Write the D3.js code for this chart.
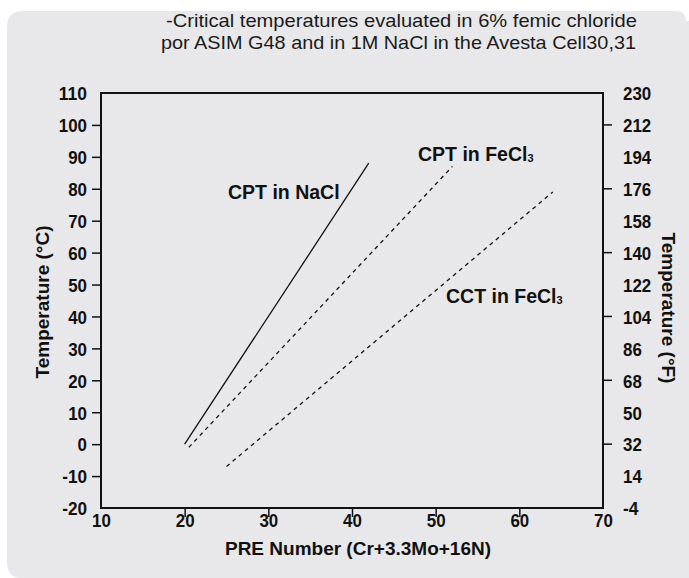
<!DOCTYPE html>
<html>
<head>
<meta charset="utf-8">
<script src="https://cdn.jsdelivr.net/npm/d3@7/dist/d3.min.js"></script>
<style>
  html, body { margin: 0; padding: 0; background: #ffffff; }
  svg { display: block; }
  .tick-label { font-family: "Liberation Sans", Arial, sans-serif; font-weight: bold; font-size: 19px; fill: #111; }
  .axis-title { font-family: "Liberation Sans", Arial, sans-serif; font-weight: bold; font-size: 19px; fill: #111; }
  .series-label { font-family: "Liberation Sans", Arial, sans-serif; font-weight: bold; font-size: 19.5px; fill: #111; }
  .title { font-family: "Liberation Sans", Arial, sans-serif; font-size: 19px; fill: #1a1a1a; }
</style>
</head>
<body>
<svg id="chart" width="689" height="578"></svg>
<script>
// Caption lines
const titleLines = [
  "-Critical temperatures evaluated in 6% femic chloride",
  "por ASIM G48 and in 1M NaCl in the Avesta Cell30,31"
];

// Axis ticks
const xTicks = [10, 20, 30, 40, 50, 60, 70];
const cTicks = [-20, -10, 0, 10, 20, 30, 40, 50, 60, 70, 80, 90, 100, 110];
const fTicks = [-4, 14, 32, 50, 68, 86, 104, 122, 140, 158, 176, 194, 212, 230];
const fMarked = [32, 68, 104, 140, 176, 212];

// Series: PRE number vs critical temperature (°C)
const cptNaCl = [[20, 0], [42, 88]];
const cptFeCl3 = [[20.5, -1], [52, 87]];
const cctFeCl3 = [[25, -7], [64, 79]];

const svg = d3.select("#chart");
const fmt = d => String(d);   // plain hyphen for negatives
// narrow, condensed look for the bold numerals
const numWidth = s => s.replace(/-/g, "").length * 9.4 + (s.match(/-/g) || []).length * 6;
function condense(sel) {
  sel.attr("textLength", function () { return numWidth(this.textContent); })
     .attr("lengthAdjust", "spacingAndGlyphs");
}

// rounded panel background
const panel = d3.path();
panel.moveTo(7, 27);
panel.quadraticCurveTo(7, 11, 23, 11);
panel.lineTo(676, 11);
panel.quadraticCurveTo(686, 11, 686, 21);
panel.lineTo(689, 21);
panel.lineTo(689, 578);
panel.lineTo(22, 578);
panel.quadraticCurveTo(7, 578, 7, 562);
panel.closePath();
svg.append("path").attr("d", panel.toString()).attr("fill", "#e8e8ea");

const x = d3.scaleLinear().domain([10, 70]).range([101, 603]);
const y = d3.scaleLinear().domain([-20, 110]).range([508, 93]);
const yF = d3.scaleLinear().domain([-4, 230]).range([508, 93]);

// caption
const titleWidths = [471, 475];
const titleX = [166, 161];
svg.append("g").selectAll("text").data(titleLines).join("text")
  .attr("class", "title")
  .attr("x", (d, i) => titleX[i])
  .attr("y", (d, i) => 27 + i * 22)
  .attr("textLength", (d, i) => titleWidths[i])
  .attr("lengthAdjust", "spacingAndGlyphs")
  .text(d => d);

// left axis
const leftAxis = d3.axisLeft(y).tickValues(cTicks).tickSize(9).tickPadding(5).tickFormat(fmt);
const gl = svg.append("g").attr("transform", `translate(${x(10)},0)`).call(leftAxis);
gl.select(".domain").remove();
gl.selectAll("line").attr("stroke", "#111").attr("stroke-width", 1.5)
  .attr("display", d => (d === 110 || d === -20) ? "none" : null);
gl.selectAll("text").attr("class", "tick-label").attr("dy", "0.36em").call(condense);

// right axis (°F)
const rightAxis = d3.axisRight(yF).tickValues(fTicks).tickSize(0).tickPadding(20).tickFormat(fmt);
const gr = svg.append("g").attr("transform", `translate(${x(70)},0)`).call(rightAxis);
gr.select(".domain").remove();
gr.selectAll("line").remove();
gr.selectAll("text").attr("class", "tick-label").attr("dy", "0.36em").call(condense);
svg.append("g").selectAll("line").data(fMarked).join("line")
  .attr("x1", x(70)).attr("x2", x(70) + 9)
  .attr("y1", d => yF(d)).attr("y2", d => yF(d))
  .attr("stroke", "#111").attr("stroke-width", 1.5);

// bottom axis
const bottomAxis = d3.axisBottom(x).tickValues(xTicks).tickSize(9).tickFormat(fmt);
const gb = svg.append("g").attr("transform", `translate(0,${y(-20)})`).call(bottomAxis);
gb.select(".domain").remove();
gb.selectAll("line").attr("stroke", "#111").attr("stroke-width", 1.5)
  .attr("display", d => (d === 10 || d === 70) ? "none" : null);
gb.selectAll("text").attr("class", "tick-label").attr("y", 19).attr("dy", "0").call(condense);

// plot frame
svg.append("rect")
  .attr("x", x(10)).attr("y", y(110))
  .attr("width", x(70) - x(10)).attr("height", y(-20) - y(110))
  .attr("fill", "none").attr("stroke", "#111").attr("stroke-width", 2);

// series lines
const line = d3.line().x(d => x(d[0])).y(d => y(d[1]));
svg.append("path").datum(cptNaCl).attr("d", line)
  .attr("fill", "none").attr("stroke", "#111").attr("stroke-width", 1.3);
svg.append("path").datum(cptFeCl3).attr("d", line)
  .attr("fill", "none").attr("stroke", "#111").attr("stroke-width", 1.3).attr("stroke-dasharray", "4,4");
svg.append("path").datum(cctFeCl3).attr("d", line)
  .attr("fill", "none").attr("stroke", "#111").attr("stroke-width", 1.3).attr("stroke-dasharray", "4,4");

// series labels
function seriesLabel(px, py, base, sub) {
  const t = svg.append("text").attr("class", "series-label").attr("x", px).attr("y", py);
  t.append("tspan").text(base);
  if (sub) t.append("tspan").attr("font-size", "11px").attr("dy", "1").text(sub);
}
seriesLabel(228, 199, "CPT in NaCl");
seriesLabel(418, 161, "CPT in FeCl", "3");
seriesLabel(446, 303, "CCT in FeCl", "3");

// axis titles
svg.append("text").attr("class", "axis-title")
  .attr("x", 358).attr("y", 555).attr("text-anchor", "middle")
  .text("PRE Number (Cr+3.3Mo+16N)");
svg.append("text").attr("class", "axis-title")
  .attr("transform", `translate(49,302) rotate(-90)`)
  .attr("text-anchor", "middle")
  .text("Temperature (°C)");
svg.append("text").attr("class", "axis-title")
  .attr("transform", `translate(662,308) rotate(90)`)
  .attr("text-anchor", "middle")
  .text("Temperature (°F)");
</script>
</body>
</html>
